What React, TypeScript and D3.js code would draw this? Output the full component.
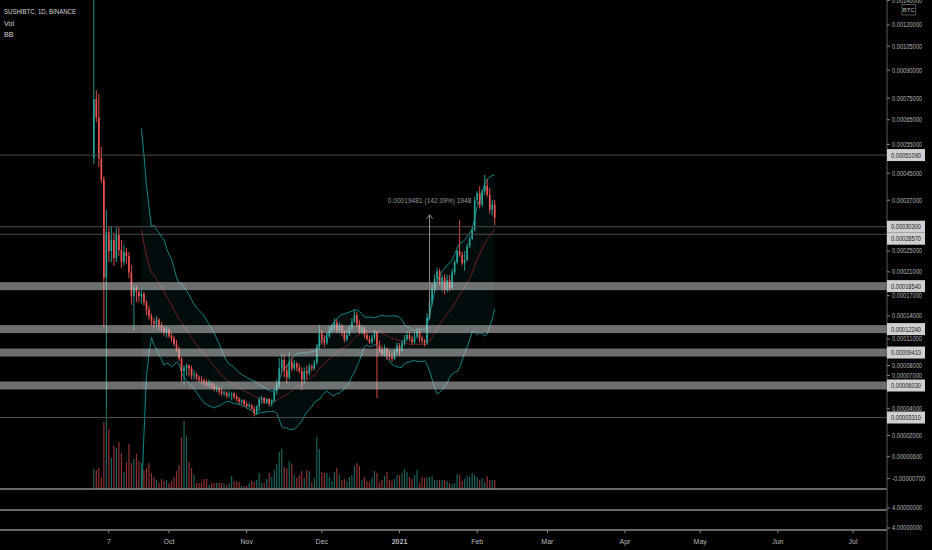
import React from 'react';
import * as d3 from 'd3';

// SUSHI/BTC daily, Binance. Prices are in µBTC (1e-6 BTC): [open, high, low, close]
const firstDay = Date.UTC(2020, 8, 1);
const ohlc: [number, number, number, number][] = [
  [500, 2000, 480, 745], [745, 790, 640, 660], [660, 770, 470, 500], [500, 540, 420, 430],
  [430, 440, 125, 200], [200, 345, 40, 290], [290, 305, 228, 250], [250, 305, 228, 273],
  [273, 289, 221, 236], [236, 302, 228, 284], [284, 302, 240, 252], [252, 273, 217, 228],
  [228, 263, 222, 248], [248, 256, 225, 240], [240, 248, 199, 209], [209, 223, 156, 169],
  [169, 187, 121, 182], [182, 186, 160, 176], [176, 179, 160, 169], [169, 179, 158, 173],
  [173, 176, 155, 160], [160, 163, 141, 149], [149, 155, 135, 140], [140, 144, 127, 133],
  [133, 137, 124, 129], [129, 140, 125, 135], [135, 137, 121, 127], [127, 132, 119, 123],
  [123, 127, 114, 119], [119, 125, 112, 122], [122, 124, 111, 114], [114, 118, 107, 111],
  [111, 114, 101, 104], [104, 109, 95, 98], [98, 101, 85, 87], [87, 89, 64, 74],
  [74, 80, 61, 78], [78, 82, 70, 80], [80, 81, 69, 77], [77, 80, 66, 70],
  [70, 75, 66, 71], [71, 73, 65, 68], [68, 70, 63, 66], [66, 69, 62, 65],
  [65, 67, 60, 63], [63, 66, 59, 61], [61, 66, 58, 62], [62, 64, 57, 60],
  [60, 62, 55, 57], [57, 60, 54, 58], [58, 59, 52, 55], [55, 58, 51, 53],
  [53, 56, 51, 54], [54, 55, 49, 51], [51, 55, 49, 52], [52, 54, 47, 53],
  [53, 54, 48, 50], [50, 52, 46, 48], [48, 50, 44, 46], [46, 48, 44, 47],
  [47, 48, 42, 44], [44, 46, 41, 42], [42, 45, 41, 43], [43, 44, 39, 40],
  [40, 42, 34, 37], [37, 43, 35, 42], [42, 50, 38, 48], [48, 51, 44, 49],
  [49, 50, 44, 45], [45, 49, 44, 48], [48, 49, 42, 44], [44, 48, 42, 47],
  [47, 58, 45, 55], [55, 66, 52, 61], [61, 88, 58, 77], [77, 93, 73, 86],
  [86, 92, 68, 75], [75, 81, 62, 68], [68, 95, 66, 84], [84, 89, 74, 77],
  [77, 86, 75, 82], [82, 84, 74, 78], [78, 82, 72, 74], [74, 78, 56, 66],
  [66, 78, 62, 74], [74, 80, 66, 72], [72, 82, 70, 79], [79, 81, 74, 77],
  [77, 86, 75, 83], [83, 104, 81, 100], [100, 128, 97, 117], [117, 121, 103, 109],
  [109, 115, 100, 105], [105, 118, 103, 113], [113, 127, 111, 121], [121, 129, 117, 125],
  [125, 137, 121, 131], [131, 135, 117, 121], [121, 132, 117, 127], [127, 129, 113, 119],
  [119, 121, 106, 109], [109, 121, 107, 115], [115, 128, 114, 124], [124, 137, 121, 132],
  [132, 148, 130, 141], [141, 145, 125, 129], [129, 135, 116, 119], [119, 128, 116, 124],
  [124, 126, 111, 115], [115, 119, 108, 110], [110, 114, 104, 106], [106, 115, 104, 112],
  [112, 121, 108, 118], [118, 120, 49, 103], [103, 108, 94, 97], [97, 102, 90, 93],
  [93, 103, 90, 99], [99, 100, 86, 91], [91, 97, 86, 89], [89, 94, 84, 87],
  [87, 98, 86, 95], [95, 106, 93, 102], [102, 105, 91, 96], [96, 109, 95, 105],
  [105, 115, 102, 110], [110, 120, 107, 115], [115, 119, 107, 110], [110, 114, 103, 106],
  [106, 118, 104, 113], [113, 123, 110, 120], [120, 122, 106, 111], [111, 114, 104, 108],
  [108, 110, 101, 105], [105, 144, 103, 138], [138, 168, 134, 160], [160, 190, 155, 182],
  [182, 206, 176, 198], [198, 218, 192, 211], [211, 216, 186, 190], [190, 204, 177, 200],
  [200, 206, 172, 179], [179, 205, 175, 196], [196, 204, 177, 182], [182, 215, 180, 209],
  [209, 232, 205, 228], [228, 252, 224, 250], [250, 318, 238, 242], [242, 248, 222, 226],
  [226, 250, 212, 232], [232, 266, 230, 260], [260, 282, 256, 276], [276, 302, 272, 296],
  [296, 380, 292, 370], [370, 395, 360, 390], [390, 410, 348, 358], [358, 400, 352, 395],
  [395, 444, 385, 412], [412, 430, 380, 385], [385, 405, 335, 345], [345, 371, 330, 358],
  [358, 371, 307, 324],
];

// daily volume (thousand SUSHI, relative)
const volumes = [
  20, 19, 21, 12, 67, 80, 60, 31, 43, 41, 47, 36, 17, 27, 45, 26, 30, 35, 28, 26,
  19, 21, 26, 16, 12, 9, 6, 10, 8, 9, 6, 8, 12, 18, 24, 52, 68, 53, 27, 21,
  14, 6, 6, 7, 10, 10, 4, 6, 6, 6, 6, 6, 5, 4, 6, 13, 8, 7, 7, 3,
  3, 3, 6, 8, 7, 9, 16, 6, 6, 10, 16, 12, 19, 25, 37, 40, 22, 21, 28, 25,
  14, 11, 14, 18, 11, 19, 18, 7, 11, 52, 40, 17, 16, 16, 12, 8, 17, 21, 14, 9,
  10, 8, 12, 14, 23, 26, 23, 9, 12, 8, 7, 11, 18, 16, 7, 9, 13, 17, 9, 8,
  10, 14, 14, 16, 20, 17, 12, 10, 14, 19, 6, 12, 11, 12, 12, 13, 9, 9, 9, 9,
  9, 8, 6, 5, 6, 15, 14, 8, 10, 13, 12, 16, 14, 12, 9, 11, 7, 13, 9, 9, 9,
];

// horizontal drawings (BTC)
const lineLevels = [0.0005109, 0.000303, 0.0002857, 0.0000331];
const zoneLevels = [0.0001854, 0.0001224, 0.0000941, 0.0000603];

const priceTicks = [
  0.0014, 0.0012, 0.00105, 0.0009, 0.00075, 0.00065, 0.00055, 0.00045, 0.00037,
  0.00025, 0.00021, 0.00017, 0.00014, 0.00011, 0.00008, 0.00007, 0.00004, 0.00002,
  0.000006, -0.000007,
];

const timeTicks: [string, string][] = [
  ['2020-09-07', '7'], ['2020-10-01', 'Oct'], ['2020-11-01', 'Nov'], ['2020-12-01', 'Dec'],
  ['2021-01-01', '2021'], ['2021-02-01', 'Feb'], ['2021-03-01', 'Mar'], ['2021-04-01', 'Apr'],
  ['2021-05-01', 'May'], ['2021-06-01', 'Jun'], ['2021-07-01', 'Jul'],
];

// price range measurement
const measureDate = '2021-01-13';
const measureFrom = 0.0001371;
const measureChange = 0.00019481;
const measureLabel = '0.00019481 (142.09%) 1948';

const UP = '#26a69a';
const DOWN = '#ef5350';
const FONT = 'Liberation Sans, Arial, sans-serif';

const W = 932;
const H = 550;
const AXIS_X = 887;
const MAIN_BOTTOM = 489;
const PANE_BOTTOMS = [510, 530];

const App = () => {
  const x = d3.scaleUtc()
    .domain([new Date('2020-10-01'), new Date('2021-07-01')])
    .range([169, 853]);
  const y = d3.scaleSymlog().constant(0.0001)
    .domain([0.0012, 0.00025])
    .range([25, 251]);
  const yVol = d3.scaleLinear()
    .domain([0, d3.max(volumes) as number])
    .range([MAIN_BOTTOM, MAIN_BOTTOM - 80]);

  const candles = ohlc.map((d, i) => ({
    date: d3.utcDay.offset(new Date(firstDay), i),
    o: d[0] * 1e-6, h: d[1] * 1e-6, l: d[2] * 1e-6, c: d[3] * 1e-6,
    v: volumes[i],
  }));

  // Bollinger Bands 20, 2
  const closes = candles.map(d => d.c);
  const bb = candles.map((d, i) => {
    if (i < 19) return null;
    const win = closes.slice(i - 19, i + 1);
    const m = d3.mean(win) as number;
    const sd = Math.sqrt(d3.mean(win, v => (v - m) ** 2) as number);
    return { date: d.date, mid: m, up: m + 2 * sd, lo: m - 2 * sd };
  }).filter(Boolean) as { date: Date; mid: number; up: number; lo: number }[];

  const bbArea = d3.area<typeof bb[0]>().x(d => x(d.date)).y0(d => y(d.lo)).y1(d => y(d.up));
  const line = (key: 'mid' | 'up' | 'lo') =>
    d3.line<typeof bb[0]>().x(d => x(d.date)).y(d => y(d[key]))(bb) as string;

  // price labels on the axis, pushed apart when they collide
  const boxes = [...lineLevels, ...zoneLevels]
    .map(v => ({ v, y: y(v) }))
    .sort((a, b) => a.y - b.y);
  for (let i = 1; i < boxes.length; i++) {
    if (boxes[i].y - boxes[i - 1].y < 12) boxes[i].y = boxes[i - 1].y + 12;
  }

  const mx = x(new Date(measureDate));
  const mTop = y(measureFrom + measureChange);
  const mBottom = y(measureFrom);

  return (
    <svg width={W} height={H} style={{ position: 'absolute', left: 0, top: 0, display: 'block' }}
      fontFamily={FONT}>
      <defs>
        <clipPath id="main">
          <rect x={0} y={0} width={AXIS_X} height={MAIN_BOTTOM} />
        </clipPath>
      </defs>
      <rect width={W} height={H} fill="#000" />

      <g clipPath="url(#main)">
        <path d={bbArea(bb) as string} fill="#198787" opacity={0.09} />
        <path d={line('up')} fill="none" stroke="#138484" strokeWidth={1} />
        <path d={line('lo')} fill="none" stroke="#138484" strokeWidth={1} />
        <path d={line('mid')} fill="none" stroke="#7a2222" strokeWidth={0.9} />

        {candles.map((d, i) => {
          const col = d.c >= d.o ? UP : DOWN;
          const yv = yVol(d.v);
          return (
            <rect key={'v' + i} x={x(d.date) - 0.6} width={1.2} y={yv}
              height={MAIN_BOTTOM - yv} fill={col} opacity={0.6} />
          );
        })}

        {candles.map((d, i) => {
          const cx = x(d.date);
          const col = d.c >= d.o ? UP : DOWN;
          const yo = y(d.o), yc = y(d.c);
          return (
            <g key={'c' + i}>
              <line x1={cx} x2={cx} y1={y(d.h)} y2={y(d.l)} stroke={col} strokeWidth={0.9} />
              <rect x={cx - 0.8} width={1.6} y={Math.min(yo, yc)}
                height={Math.max(0.8, Math.abs(yo - yc))} fill={col} />
            </g>
          );
        })}

        {lineLevels.map(v => (
          <line key={'l' + v} x1={0} x2={AXIS_X} y1={y(v)} y2={y(v)} stroke="#4d4d4d" strokeWidth={1} />
        ))}
        {zoneLevels.map(v => (
          <rect key={'z' + v} x={0} width={AXIS_X} y={y(v) - 4} height={8}
            fill="rgb(200,200,200)" opacity={0.55} />
        ))}

        <line x1={mx} x2={mx} y1={mTop} y2={mBottom} stroke="#8c8c8c" strokeWidth={1} />
        <polyline points={`${mx - 3},${mTop + 4} ${mx},${mTop} ${mx + 3},${mTop + 4}`}
          fill="none" stroke="#8c8c8c" strokeWidth={1} />
        <text x={mx} y={mTop - 12} textAnchor="middle" fontSize={6.6} fill="#9a9a9a">
          {measureLabel}
        </text>
      </g>

      {/* pane separators */}
      {[MAIN_BOTTOM, ...PANE_BOTTOMS].map(py => (
        <line key={'p' + py} x1={0} x2={AXIS_X} y1={py} y2={py} stroke="#8a8a8a" strokeWidth={1.4} />
      ))}
      <line x1={AXIS_X} x2={AXIS_X} y1={0} y2={H} stroke="#5a5a5a" strokeWidth={1} />

      {/* price axis */}
      {priceTicks.map(v => (
        <g key={'t' + v} transform={`translate(0,${y(v)})`}>
          <line x1={AXIS_X} x2={AXIS_X + 3} stroke="#8a8a8a" strokeWidth={1} />
          <text x={AXIS_X + 5} dy="0.35em" fontSize={7} fill="#b8b8b8"
            textLength={v < 0 ? 33 : 30} lengthAdjust="spacingAndGlyphs">
            {v.toFixed(8)}
          </text>
        </g>
      ))}
      {PANE_BOTTOMS.map(py => (
        <g key={'pl' + py} transform={`translate(0,${py - 2})`}>
          <line x1={AXIS_X} x2={AXIS_X + 3} stroke="#8a8a8a" strokeWidth={1} />
          <text x={AXIS_X + 5} dy="0.35em" fontSize={7} fill="#b8b8b8"
            textLength={30} lengthAdjust="spacingAndGlyphs">4.00000000</text>
        </g>
      ))}
      {boxes.map(b => (
        <g key={'b' + b.v} transform={`translate(0,${b.y})`}>
          <rect x={AXIS_X} y={-6} width={38} height={12} fill="#cfcfcf" />
          <text x={AXIS_X + 4} dy="0.35em" fontSize={7} fill="#131722"
            textLength={30} lengthAdjust="spacingAndGlyphs">
            {b.v.toFixed(8)}
          </text>
        </g>
      ))}
      <rect x={902} y={4.5} width={13.5} height={10.5} fill="#000" stroke="#6a6a6a" strokeWidth={0.8} />
      <text x={908.7} y={9.8} dy="0.35em" textAnchor="middle" fontSize={6} fill="#b8b8b8">BTC</text>

      {/* time axis */}
      {timeTicks.map(([d, label]) => {
        const tx = x(new Date(d));
        return (
          <g key={'x' + d}>
            <line x1={tx} x2={tx} y1={PANE_BOTTOMS[1]} y2={PANE_BOTTOMS[1] + 3} stroke="#8a8a8a" />
            <text x={tx} y={543.5} textAnchor="middle" fontSize={7} fill="#b8b8b8"
              fontWeight={label === '2021' ? 'bold' : 'normal'}>
              {label}
            </text>
          </g>
        );
      })}

      {/* legend */}
      <text x={4} y={14} fontSize={7.2} fill="#d6d6d6" textLength={72} lengthAdjust="spacingAndGlyphs">
        SUSHIBTC, 1D, BINANCE
      </text>
      <text x={4} y={26} fontSize={7.2} fill="#d6d6d6">Vol</text>
      <text x={4} y={37} fontSize={7.2} fill="#d6d6d6">BB</text>
    </svg>
  );
};

export default App;
